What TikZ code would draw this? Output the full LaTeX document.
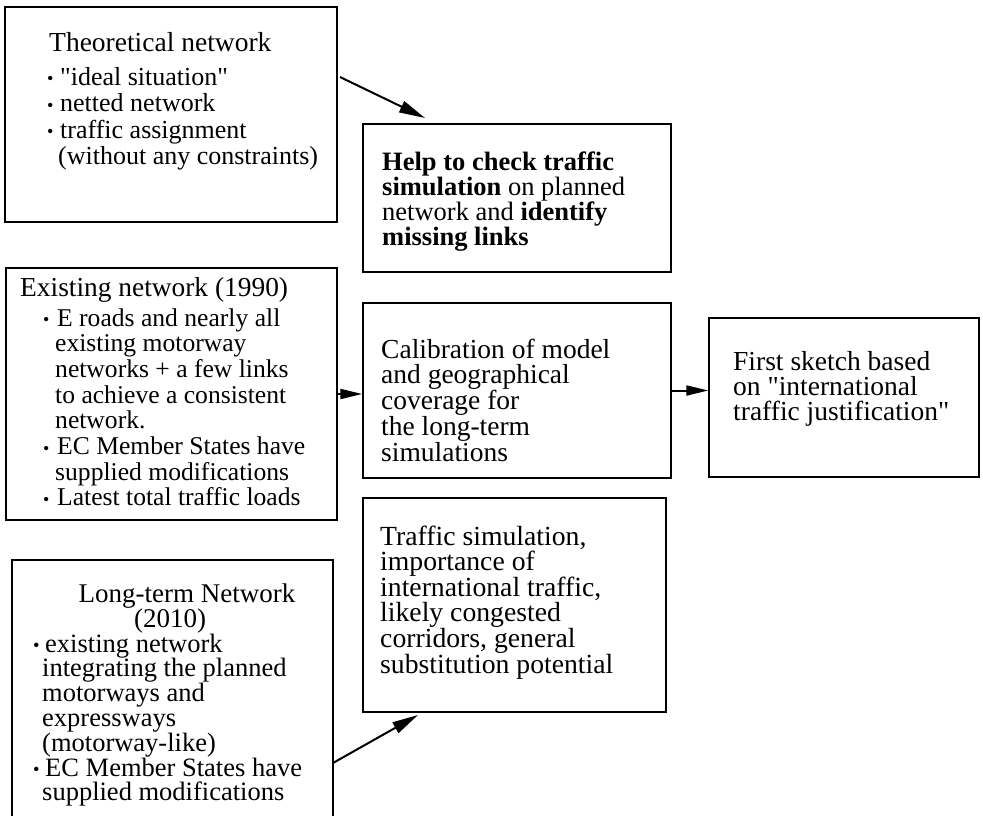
\documentclass[tikz,border=0pt]{standalone}
\usepackage{fontspec}
\setmainfont{Liberation Serif}
\usepackage{graphicx}
\usetikzlibrary{arrows.meta}
\newcommand\bu[1][13pt]{\makebox[#1][l]{\raisebox{0.5pt}{\scalebox{0.7}{\textbullet}}}}
\newcommand\boxtext[3]{\parbox[t]{330pt}{\fontsize{#1}{#2}\selectfont\raggedright #3}}
\newcommand\qq{\textquotedbl}
\begin{document}
\begin{tikzpicture}[x=1pt,y=-1pt,
  box/.style={draw, line width=1.5pt, inner sep=0pt},
  txt/.style={anchor=base west, inner sep=0pt},
  arr/.style={line width=2pt, -{Triangle[length=22pt,width=10pt]}},
  darr/.style={line width=2pt, -{Triangle[length=26pt,width=12pt]}}]
\useasboundingbox (0,0) rectangle (983,815);
\fill[white] (0,0) rectangle (983,815);
\clip (0,0) rectangle (983,815);
% boxes
\node[box, minimum width=332pt, minimum height=215pt] (A) at (171,114.5) {};
\node[box, minimum width=308pt, minimum height=148pt] (B) at (517,198) {};
\node[box, minimum width=308pt, minimum height=175pt] (C) at (517,390.5) {};
\node[box, minimum width=270pt, minimum height=159pt] (D) at (844,397.5) {};
\node[box, minimum width=331pt, minimum height=252pt] (E) at (171.5,394) {};
\node[box, minimum width=303pt, minimum height=214pt] (S) at (514.5,605) {};
\node[box, minimum width=321pt, minimum height=280pt] (F) at (172.5,700) {};
% texts
\node[txt] (At) at (49,51) {\boxtext{27.5}{27}{Theoretical network}};
\node[txt] (Ab) at (47,85) {\boxtext{26}{26.5}{\bu\qq ideal situation\qq\\\bu netted network\\\bu traffic assignment\\\hspace*{11pt}(without any constraints)}};
\node[txt] (Bt) at (382,170) {\boxtext{26.5}{25}{\textbf{Help to check traffic}\\\textbf{simulation} on planned\\network and \textbf{identify}\\\textbf{missing links}}};
\node[txt] (Ct) at (381,358) {\boxtext{27.5}{25}{Calibration of model\\and geographical\\coverage for\\the long-term\\simulations}};
\node[txt] (Dt) at (733,370) {\boxtext{27.5}{25}{First sketch based\\on \qq international\\traffic justification\qq}};
\node[txt] (Et) at (20,296) {\boxtext{27.4}{25}{Existing network (1990)}};
\node[txt] (Eb) at (43,326) {\boxtext{25.6}{25.7}{\bu[14pt]E roads and nearly all\\\hspace*{12pt}existing motorway\\\hspace*{12pt}networks + a few links\\\hspace*{12pt}to achieve a consistent\\\hspace*{12pt}network.\\\bu[14pt]EC Member States have\\\hspace*{12pt}supplied modifications\\\bu[14pt]Latest total traffic loads}};
\node[txt] (St) at (380,545) {\boxtext{27.7}{25}{Traffic simulation,\\importance of\\international traffic,\\likely congested\\corridors, general\\substitution potential}};
\node[anchor=base, inner sep=0pt] (Ft1) at (187,602) {\fontsize{27}{27}\selectfont Long-term Network};
\node[anchor=base, inner sep=0pt] (Ft2) at (170,627) {\fontsize{27}{27}\selectfont (2010)};
\node[txt] (Fb) at (33,652) {\boxtext{26.5}{24.8}{\bu[12pt]existing network\\\hspace*{9pt}integrating the planned\\\hspace*{9pt}motorways and\\\hspace*{9pt}expressways\\\hspace*{9pt}(motorway-like)\\\bu[12pt]EC Member States have\\\hspace*{9pt}supplied modifications}};
% connectors
\coordinate (a1) at (340,77);
\coordinate (a2) at (425,118);
\coordinate (f1) at (333,763);
\coordinate (f2) at (418,715);
\draw[darr] (a1) -- (a2);
\draw[arr] (E.east) -- (E.east -| C.west);
\draw[arr] (C.east) -- (C.east -| D.west);
\draw[darr] (f1) -- (f2);
\end{tikzpicture}
\end{document}
